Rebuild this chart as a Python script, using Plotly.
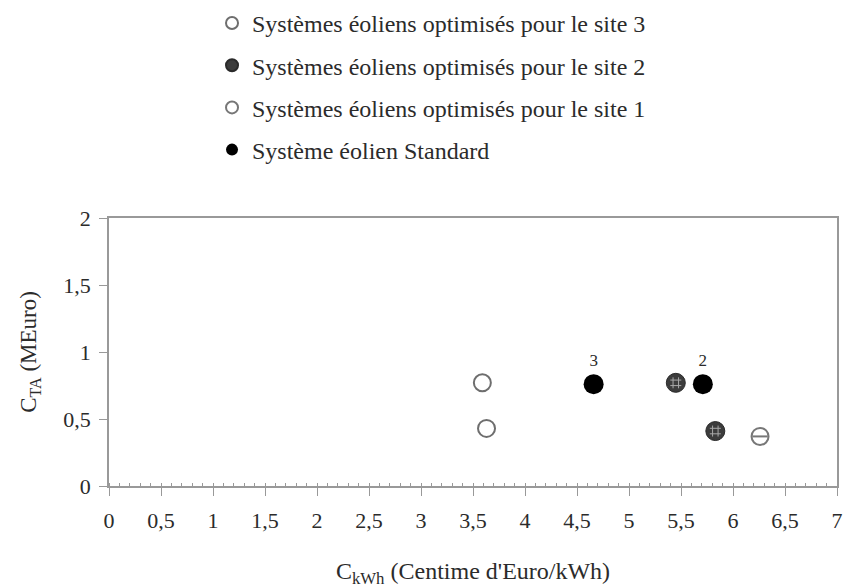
import plotly.graph_objects as go

# C_kWh (centime d'euro/kWh) vs C_TA (MEuro)
site3_x = [3.59, 3.63]
site3_y = [0.77, 0.43]

site2_x = [5.45, 5.83]
site2_y = [0.77, 0.41]

site1_x = [6.26]
site1_y = [0.37]

standard_x = [4.66, 5.71]
standard_y = [0.76, 0.76]
standard_labels = ["3", "2"]

FONT = "Liberation Serif, Times New Roman, serif"
INK = "#2b2b2b"
AXIS = "#999999"

fig = go.Figure()

fig.add_trace(go.Scatter(
    x=site3_x, y=site3_y, mode="markers",
    name="Systèmes éoliens optimisés pour le site 3", legendgroup="s3",
    marker=dict(symbol="circle", size=17, color="white",
                line=dict(color="#6e6e6e", width=2)),
))
fig.add_trace(go.Scatter(
    x=site2_x, y=site2_y, mode="markers",
    name="Systèmes éoliens optimisés pour le site 2", legendgroup="s2",
    marker=dict(symbol="circle", size=19, color="#3c3c3c",
                line=dict(color="#2a2a2a", width=1)),
))
# speckled texture on the site 2 markers
fig.add_trace(go.Scatter(
    x=site2_x, y=site2_y, mode="markers", showlegend=False, legendgroup="s2",
    hoverinfo="skip",
    marker=dict(symbol="hash-open", size=11, color="#a8a8a8",
                line=dict(color="#a8a8a8", width=1)),
))
fig.add_trace(go.Scatter(
    x=site1_x, y=site1_y, mode="markers",
    name="Systèmes éoliens optimisés pour le site 1", legendgroup="s1",
    marker=dict(symbol="circle", size=17, color="white",
                line=dict(color="#777777", width=2)),
))
# horizontal bar inside the site 1 circle
fig.add_trace(go.Scatter(
    x=site1_x, y=site1_y, mode="markers", showlegend=False, legendgroup="s1",
    hoverinfo="skip",
    marker=dict(symbol="line-ew", size=11, color="#777777",
                line=dict(color="#777777", width=2)),
))
fig.add_trace(go.Scatter(
    x=standard_x, y=standard_y, mode="markers+text",
    name="Système éolien Standard", legendgroup="std",
    text=standard_labels, textposition="top center",
    textfont=dict(family=FONT, size=17, color=INK),
    marker=dict(symbol="circle", size=20, color="black"),
))

fig.update_layout(
    width=846, height=588,
    margin=dict(l=109, r=9, t=218, b=102, autoexpand=False),
    paper_bgcolor="white", plot_bgcolor="white",
    font=dict(family=FONT, size=22, color=INK),
    separators=", ",
    showlegend=True,
    legend=dict(
        x=0.1415, xanchor="left", y=1.81, yanchor="top",
        font=dict(family=FONT, size=24, color=INK),
        tracegroupgap=8, itemsizing="constant",
        bgcolor="rgba(0,0,0,0)",
    ),
)

fig.update_xaxes(
    range=[0, 7], dtick=0.5, tick0=0,
    showgrid=False, zeroline=False, automargin=False,
    showline=True, linecolor=AXIS, linewidth=1.5, mirror=True,
    ticks="outside", ticklen=8, tickcolor=AXIS, ticklabelstandoff=6,
    minor=dict(ticks="inside", ticklen=3, dtick=0.1, tickcolor=AXIS, showgrid=False),
    tickfont=dict(family=FONT, size=22, color=INK),
    title=dict(text="C<sub>kWh</sub> (Centime d'Euro/kWh)",
               font=dict(family=FONT, size=24, color=INK), standoff=30),
)
fig.update_yaxes(
    range=[0, 2], dtick=0.5, tick0=0,
    showgrid=False, zeroline=False, automargin=False,
    showline=True, linecolor=AXIS, linewidth=1.5, mirror=True,
    ticks="outside", ticklen=8, tickcolor=AXIS, ticklabelstandoff=4,
    tickfont=dict(family=FONT, size=22, color=INK),
    title=dict(text="C<sub>TA</sub> (MEuro)",
               font=dict(family=FONT, size=23, color=INK), standoff=20),
)

# drop the default page margin so the figure sits at the window's corner
fig.write_html(
    "out.html",
    config={"displayModeBar": False},
    post_script="document.body.style.margin='0';",
)
